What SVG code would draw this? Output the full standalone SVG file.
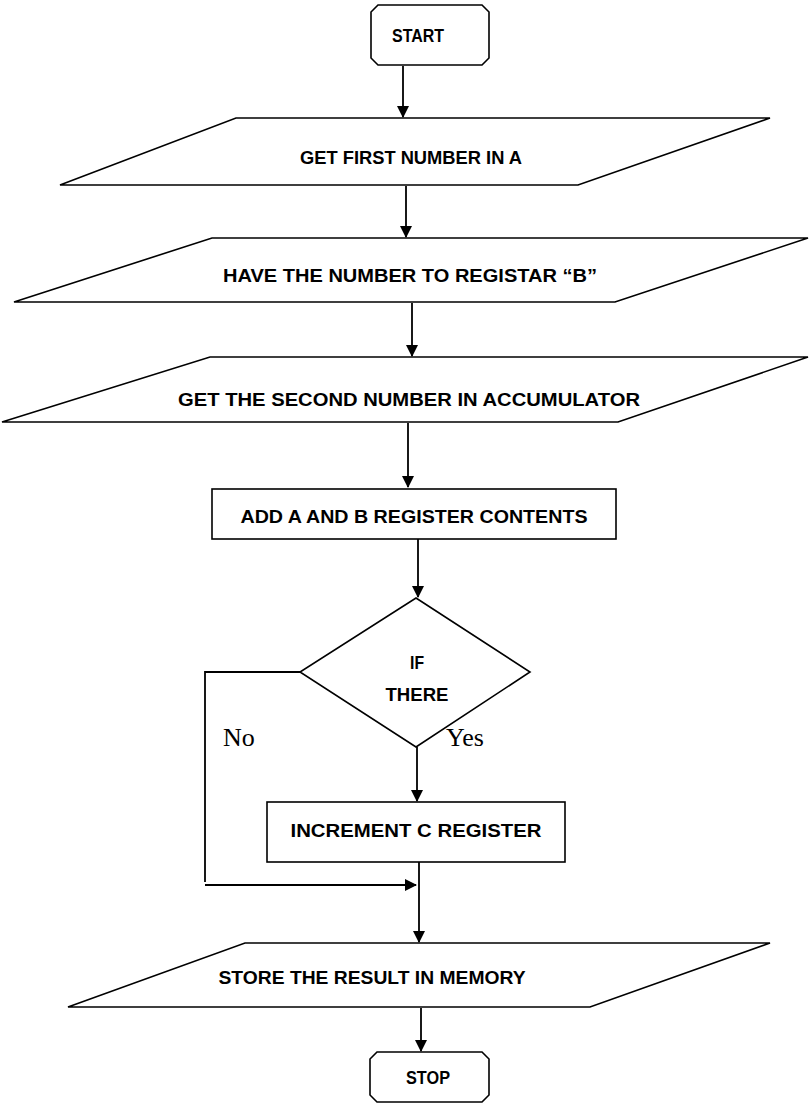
<svg xmlns="http://www.w3.org/2000/svg" width="810" height="1109" viewBox="0 0 810 1109">
  <style>
    .shape { fill: #ffffff; stroke: #000000; stroke-width: 1.6; }
    .lbl { font-family: "Liberation Sans", Arial, sans-serif; font-weight: bold; font-size: 18px; fill: #000000; text-anchor: middle; }
    .branch { font-family: "Liberation Serif", "Times New Roman", serif; font-size: 26px; fill: #000000; }
    .wire { fill: none; stroke: #000000; stroke-width: 1.8; }
  </style>
  <defs>
    <marker id="arrow" markerWidth="12" markerHeight="14" refX="11" refY="6" orient="auto" markerUnits="userSpaceOnUse">
      <path d="M0,0 L12,6 L0,12 Z" fill="#000000"/>
    </marker>
  </defs>

  <rect width="810" height="1109" fill="#ffffff"/>

  <!-- connectors -->
  <g id="connectors">
    <line class="wire" x1="403" y1="66" x2="403" y2="117" marker-end="url(#arrow)"/>
    <line class="wire" x1="406" y1="186" x2="406" y2="237" marker-end="url(#arrow)"/>
    <line class="wire" x1="412" y1="303" x2="412" y2="356" marker-end="url(#arrow)"/>
    <line class="wire" x1="408" y1="423" x2="408" y2="487" marker-end="url(#arrow)"/>
    <line class="wire" x1="418" y1="539" x2="418" y2="597" marker-end="url(#arrow)" stroke-width="2.2"/>
    <line class="wire" x1="417" y1="747" x2="417" y2="801" marker-end="url(#arrow)"/>
    <polyline class="wire" points="300,672 205,672 205,882"/>
    <line class="wire" x1="205" y1="885" x2="416" y2="885" marker-end="url(#arrow)" stroke-width="2.2"/>
    <line class="wire" x1="419" y1="862" x2="419" y2="942" marker-end="url(#arrow)"/>
    <line class="wire" x1="421" y1="1008" x2="421" y2="1051" marker-end="url(#arrow)"/>
  </g>

  <!-- start terminal -->
  <g id="start">
    <path class="shape" d="M378,5 H482 L489,12 V58 L482,65 H378 L371,58 V12 Z"/>
    <text class="lbl" x="418" y="42" textLength="52" lengthAdjust="spacingAndGlyphs">START</text>
  </g>

  <g id="get-first">
    <polygon class="shape" points="236,118 770,118 578,185 60,185"/>
    <text class="lbl" x="411" y="164" textLength="222" lengthAdjust="spacingAndGlyphs">GET FIRST NUMBER IN A</text>
  </g>

  <g id="move-to-b">
    <polygon class="shape" points="212,238 808,238 615,302 14,302"/>
    <text class="lbl" x="410" y="282" textLength="374" lengthAdjust="spacingAndGlyphs">HAVE THE NUMBER TO REGISTAR “B”</text>
  </g>

  <g id="get-second">
    <polygon class="shape" points="210,357 808,357 618,422 2,422"/>
    <text class="lbl" x="409" y="406" textLength="462" lengthAdjust="spacingAndGlyphs">GET THE SECOND NUMBER IN ACCUMULATOR</text>
  </g>

  <g id="add">
    <rect class="shape" x="212" y="489" width="404" height="50"/>
    <text class="lbl" x="414" y="523" textLength="347" lengthAdjust="spacingAndGlyphs">ADD A AND B REGISTER CONTENTS</text>
  </g>

  <g id="decision">
    <polygon class="shape" points="416,598 530,672 416,747 300,672"/>
    <text class="lbl" x="417" y="669" textLength="14" lengthAdjust="spacingAndGlyphs">IF</text>
    <text class="lbl" x="417" y="701" textLength="63" lengthAdjust="spacingAndGlyphs">THERE</text>
  </g>

  <g id="branch-labels">
    <text class="branch" x="223" y="746">No</text>
    <text class="branch" x="446" y="746">Yes</text>
  </g>

  <g id="increment">
    <rect class="shape" x="267" y="802" width="298" height="60"/>
    <text class="lbl" x="416" y="837" textLength="251" lengthAdjust="spacingAndGlyphs">INCREMENT C REGISTER</text>
  </g>

  <g id="store">
    <polygon class="shape" points="245,943 770,943 590,1007 68,1007"/>
    <text class="lbl" x="372" y="984" textLength="307" lengthAdjust="spacingAndGlyphs">STORE THE RESULT IN MEMORY</text>
  </g>

  <g id="stop">
    <path class="shape" d="M377,1052 H482 L489,1059 V1095 L482,1102 H377 L370,1095 V1059 Z"/>
    <text class="lbl" x="428" y="1084" textLength="44" lengthAdjust="spacingAndGlyphs">STOP</text>
  </g>
</svg>
